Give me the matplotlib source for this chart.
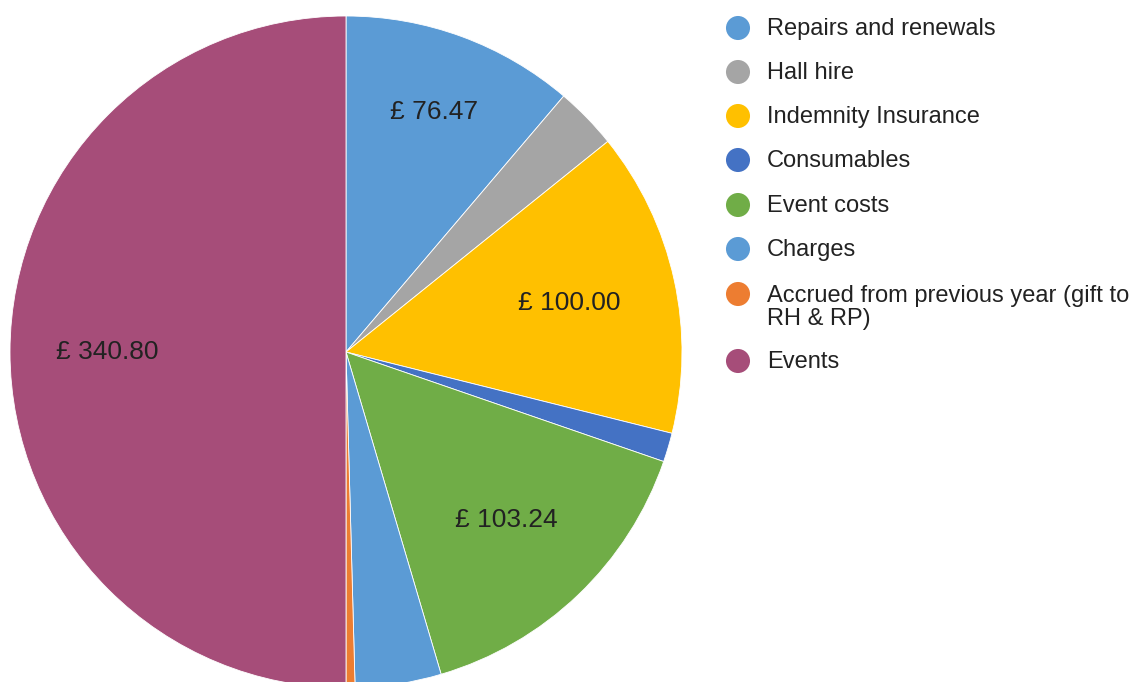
import matplotlib
matplotlib.use('Agg')
import matplotlib.pyplot as plt
import numpy as np

# Expense categories and amounts (GBP)
categories = ['Repairs and renewals', 'Hall hire', 'Indemnity Insurance', 'Consumables',
              'Event costs', 'Charges', 'Accrued from previous year (gift to\nRH & RP)', 'Events']
values = [76.47, 20.45, 100.00, 9.50, 103.24, 28.20, 2.94, 340.80]
colors = ['#5B9BD5', '#A5A5A5', '#FFC000', '#4472C4', '#70AD47', '#5B9BD5', '#ED7D31', '#A64D79']

plt.rcParams['font.family'] = ['Liberation Sans', 'DejaVu Sans']

W, H = 1137, 682
fig = plt.figure(figsize=(W / 100, H / 100), dpi=100)
ax = fig.add_axes([0, 0, 1, 1])

cx, cy, r = 346, H - 352, 336
wedges, _ = ax.pie(values, colors=colors, startangle=90, counterclock=False,
                   center=(cx, cy), radius=r, frame=True,
                   wedgeprops=dict(edgecolor='white', linewidth=0.6))
ax.set_xlim(0, W)
ax.set_ylim(0, H)
ax.set_aspect('equal')
ax.axis('off')

# slice labels for the bigger slices only
total = sum(values)
label_r = {0: 0.76, 2: 0.68, 4: 0.69, 7: 0.71}
for i, (w, v) in enumerate(zip(wedges, values)):
    if v / total < 0.08:
        continue
    mid = np.deg2rad((w.theta1 + w.theta2) / 2)
    f = label_r.get(i, 0.7)
    ax.text(cx + f * r * np.cos(mid), cy + f * r * np.sin(mid), f'£ {v:.2f}',
            ha='center', va='center', fontsize=19, color='#222222')

# legend
rows = [28, 72, 116, 160, 205, 249, 294, 361]
for name, col, y in zip(categories, colors, rows):
    ax.scatter([738], [H - y], s=300, color=col, edgecolors='none', clip_on=False)
    if '\n' in name:
        ax.text(767, H - y + 9, name, ha='left', va='top', fontsize=17,
                color='#222222', linespacing=1.04)
    else:
        ax.text(767, H - y - 1, name, ha='left', va='center', fontsize=17,
                color='#222222')

fig.savefig('out.png', dpi=100)
